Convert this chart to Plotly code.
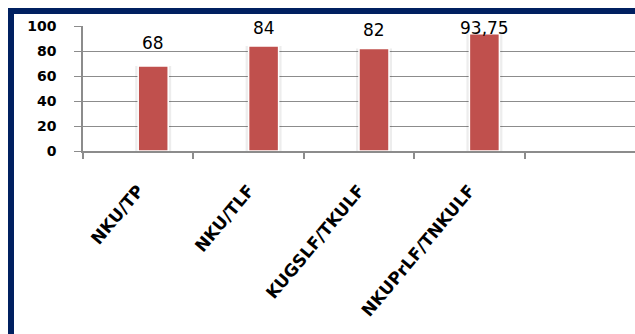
import plotly.graph_objects as go

# ---- data ----
categories = ["NKU/TP", "NKU/TLF", "KUGSLF/TKULF", "NKUPrLF/TNKULF"]
values = [68, 84, 82, 93.75]
y_ticks = [0, 20, 40, 60, 80, 100]

# ---- layout geometry (pixels) ----
W, H = 635, 334
ML, MR, MT, MB = 83, 0, 26, 183
plot_w = W - ML - MR
plot_h = H - MT - MB
n_slots = 5                      # the category axis keeps one empty slot on the right
slot_px = plot_w / n_slots

bar_color = "#C0504D"
grid_color = "#8C8C8C"
frame_color = "#002060"

bar_w = 30 / slot_px
shadow_pad = 3 / slot_px

# vertical nudge of each value label above its bar top (px)
label_lift = [23, 18, 18.5, 5.5]


def fmt(v):
    return f"{v:g}".replace(".", ",")


fig = go.Figure()

# soft shadow behind the bars
fig.add_trace(go.Bar(
    x=categories, y=values, width=bar_w + 2 * shadow_pad, offset=-shadow_pad,
    marker=dict(color="rgba(0,0,0,0.07)", line_width=0),
    hoverinfo="skip", showlegend=False,
))
# main bars
fig.add_trace(go.Bar(
    x=categories, y=values, width=bar_w, offset=0,
    marker=dict(color=bar_color, line=dict(color="white", width=1.5)),
    showlegend=False,
))

for c, v, lift in zip(categories, values, label_lift):
    fig.add_annotation(
        x=c, y=v, xref="x", yref="y", text=fmt(v), showarrow=False,
        xshift=15, yshift=lift, yanchor="middle", xanchor="center",
        font=dict(family="DejaVu Sans", size=17, color="black"),
    )

# dark blue frame around the chart
fig.add_shape(
    type="rect", xref="paper", yref="paper",
    x0=(11 - ML) / plot_w, x1=1.05,
    y0=-2, y1=1 + (MT - 11) / plot_h,
    line=dict(color=frame_color, width=6), fillcolor="rgba(0,0,0,0)",
    layer="above",
)

fig.update_layout(
    width=W, height=H,
    margin=dict(l=ML, r=MR, t=MT, b=MB, pad=0),
    paper_bgcolor="white", plot_bgcolor="white",
    barmode="overlay",
    showlegend=False,
    xaxis=dict(
        type="category", categoryorder="array", categoryarray=categories,
        range=[-0.5, n_slots - 0.5],
        tickson="boundaries", ticks="outside", ticklen=6, tickwidth=1.5,
        tickcolor=grid_color,
        showline=True, linecolor=grid_color, linewidth=1.5,
        showgrid=False, zeroline=False,
        tickangle=-50, ticklabelstandoff=21,
        tickfont=dict(family="DejaVu Sans", size=17, color="black", weight="bold"),
        fixedrange=True,
    ),
    yaxis=dict(
        range=[0, 100], tickmode="array", tickvals=y_ticks,
        ticktext=[str(t) for t in y_ticks],
        ticks="outside", ticklen=7, tickwidth=1.2, tickcolor=grid_color,
        showline=True, linecolor=grid_color, linewidth=1.5,
        showgrid=True, gridcolor=grid_color, gridwidth=1,
        zeroline=False, ticklabelstandoff=15,
        tickfont=dict(family="DejaVu Sans", size=14, color="black", weight="bold"),
        fixedrange=True,
    ),
)

fig.write_html("out.html")
